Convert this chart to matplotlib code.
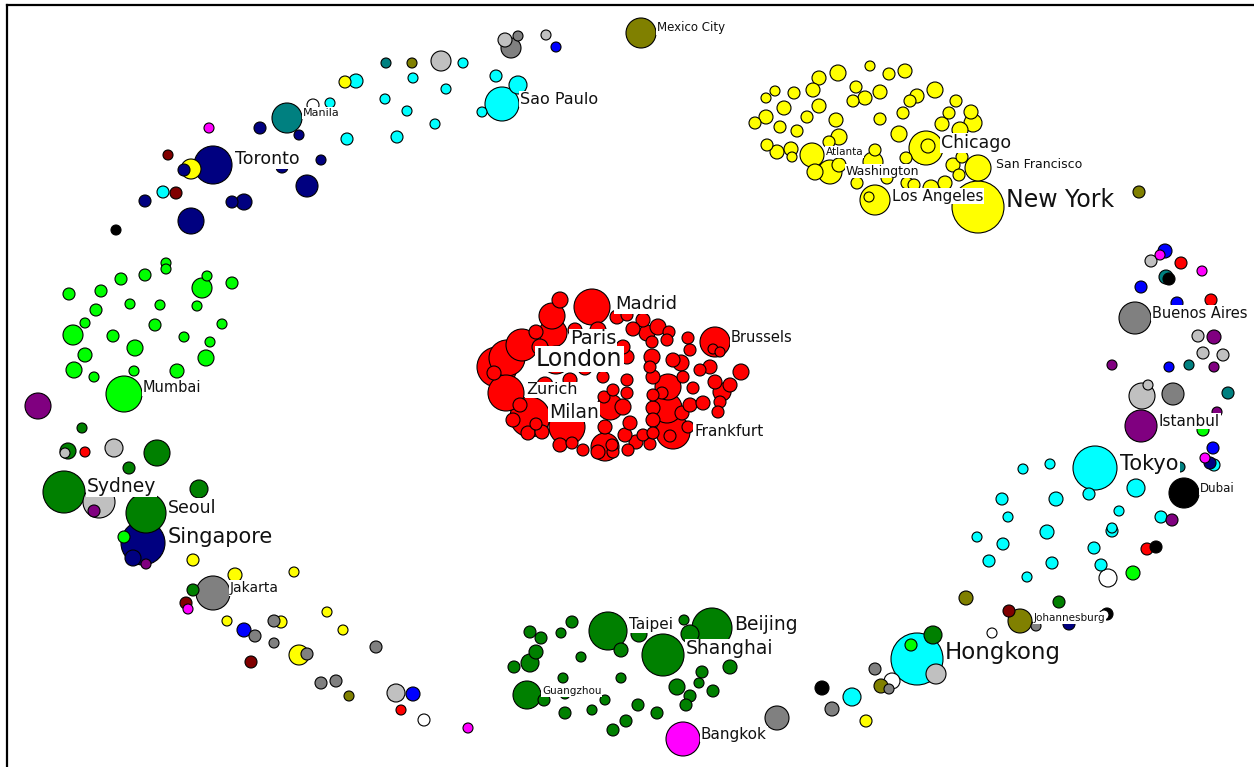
import matplotlib
matplotlib.use("Agg")
import matplotlib.pyplot as plt
from matplotlib.patches import Circle

# ---- data: bubble positions (layout units) and radii, grouped by colour ----
red = [(592,307,18),(552,316,13),(553,333,14),(536,332,7),(522,345,16),(507,358,18),(497,367,20),
       (494,373,7),(506,393,18),(530,417,20),(513,420,7),(528,433,7),(536,424,6),(567,427,18),
       (542,432,7),(583,450,6),(572,443,6),(605,447,14),(613,452,6),(628,450,6),(636,442,7),
       (650,444,6),(643,435,6),(625,435,7),(630,423,7),(605,427,7),(604,397,6),(610,407,13),
       (623,407,8),(627,393,6),(627,380,6),(613,390,6),(603,377,6),(627,357,7),(623,347,7),
       (617,317,7),(627,315,6),(643,320,7),(633,329,7),(647,333,8),(658,327,8),(669,332,6),
       (667,340,6),(652,342,6),(652,357,8),(650,367,6),(673,360,7),(681,363,8),(688,338,6),
       (690,350,6),(715,342,15),(713,349,5),(720,352,5),(700,370,6),(710,367,7),(741,372,8),
       (715,382,7),(730,385,7),(722,392,9),(668,387,13),(662,393,6),(653,377,7),(653,395,6),
       (683,377,6),(693,388,6),(667,408,15),(653,408,7),(653,420,7),(682,413,7),(690,405,7),
       (703,403,7),(720,402,6),(718,412,6),(673,432,17),(670,436,6),(688,427,6),(653,433,6),
       (556,360,14),(590,355,12),(600,340,10),(545,385,8),(570,380,7),(585,368,7),(540,347,8),
       (560,300,8),(575,330,7),(598,330,8),(612,445,6),(598,452,7),(560,445,7),(520,405,7)]
yellow = [(870,66,5),(889,74,6),(905,71,7),(838,73,8),(819,78,7),(775,91,5),(766,98,5),(794,93,6),
          (813,90,7),(856,87,6),(880,92,7),(865,98,7),(853,101,6),(935,90,8),(917,96,7),(910,101,6),
          (956,101,6),(949,113,6),(971,112,7),(784,108,7),(819,106,7),(807,117,6),(836,120,7),
          (880,119,6),(903,113,6),(755,123,6),(766,117,7),(780,127,6),(797,131,6),(942,124,7),
          (973,123,9),(960,130,8),(899,134,8),(839,137,8),(829,142,6),(767,145,6),(777,152,7),
          (791,149,7),(792,157,5),(812,155,12),(815,172,8),(830,172,12),(839,165,7),(857,183,6),
          (875,150,6),(873,162,10),(887,178,6),(906,158,6),(907,183,6),(926,148,17),(928,146,7),
          (953,165,7),(962,157,6),(959,175,6),(978,168,13),(945,183,7),(931,188,8),(914,185,6),
          (875,200,15),(869,197,5),(978,207,26),
          (193,560,6),(235,575,7),(294,572,5),(227,621,5),(281,622,6),(327,612,5),(343,630,5),
          (299,655,10),(345,82,6),(191,169,10),(866,721,6)]
lime = [(166,263,5),(166,269,5),(207,276,5),(202,288,10),(232,283,6),(69,294,6),(101,291,6),
        (121,279,6),(145,275,6),(96,310,6),(130,304,5),(160,305,5),(197,306,5),(85,323,5),
        (155,325,6),(222,324,5),(73,335,10),(113,336,6),(184,337,5),(135,348,8),(210,342,5),
        (85,355,7),(206,358,8),(74,370,8),(94,377,5),(134,371,5),(177,371,7),(124,394,18),
        (124,537,6),(1203,430,6),(911,645,6),(1133,573,7)]
cyan = [(413,78,5),(356,81,7),(385,99,5),(407,111,5),(330,103,5),(347,139,6),(397,137,6),
        (163,192,6),(463,63,5),(496,76,6),(518,85,9),(502,104,17),(482,112,5),(446,89,5),
        (435,124,5),(1214,465,6),(1095,468,22),(1136,488,9),(1089,494,6),(1119,511,5),
        (1161,517,6),(1112,528,5),(1023,469,5),(1050,464,5),(1002,499,6),(1056,499,7),
        (1008,517,5),(977,537,5),(1003,544,6),(1047,532,7),(1112,531,6),(1094,548,6),
        (989,561,6),(1052,563,6),(1101,565,6),(1027,577,5),(917,659,26),(852,697,9)]
navy = [(260,128,6),(299,135,5),(184,170,6),(213,165,19),(282,167,6),(321,160,5),(307,186,11),
        (145,201,6),(232,202,6),(244,202,8),(191,221,13),(143,543,22),(133,558,8),(1210,463,6),
        (1069,624,6)]
green = [(82,428,5),(68,451,8),(157,453,13),(129,468,6),(199,489,9),(64,492,21),(146,513,20),
         (193,590,6),(530,632,6),(541,638,6),(561,633,5),(572,622,6),(608,631,19),(639,634,8),
         (684,620,5),(712,628,20),(690,634,9),(663,655,21),(621,650,7),(536,652,7),(530,663,9),
         (514,667,6),(581,657,5),(730,667,7),(702,672,6),(677,687,8),(699,683,5),(713,691,6),
         (690,696,6),(686,705,6),(563,678,5),(621,678,5),(527,695,14),(544,700,6),(565,694,5),
         (605,700,5),(565,713,6),(592,710,5),(638,705,6),(657,713,6),(626,721,6),(613,730,6),
         (1059,602,6),(933,635,9)]
teal = [(386,63,5),(287,118,15),(1166,277,7),(1189,365,5),(1228,393,6),(1180,467,5)]
olive = [(412,63,5),(641,33,15),(1139,192,6),(349,696,5),(966,598,7),(1020,621,12),(881,686,7)]
purple = [(38,406,13),(94,511,6),(146,564,5),(1214,337,7),(1112,365,5),(1214,367,5),(1217,412,5),
          (1141,426,16),(1172,520,6)]
maroon = [(168,155,5),(176,193,6),(186,603,6),(251,662,6),(1009,611,6)]
gray = [(518,36,5),(511,48,10),(1135,318,16),(1173,394,11),(213,593,17),(274,621,6),(255,636,6),
        (274,643,5),(307,654,6),(376,647,6),(321,683,6),(336,681,6),(777,718,12),(832,709,7),
        (875,669,6),(889,689,5),(1036,626,5)]
silver = [(505,40,7),(546,35,5),(441,61,10),(1151,261,6),(1198,336,6),(1203,353,6),(1223,355,6),
          (1142,396,13),(1148,385,5),(65,453,5),(114,448,9),(99,502,16),(396,693,9),(936,674,10)]
blue = [(556,47,5),(1165,251,7),(1141,287,6),(1177,303,6),(1169,367,5),(1213,448,6),(244,630,7),
        (413,694,7)]
magenta = [(209,128,5),(1160,255,5),(1202,271,5),(1205,458,5),(188,609,5),(468,728,5),(683,739,17)]
black = [(116,230,5),(1169,279,6),(1184,493,15),(1156,547,6),(822,688,7),(1107,614,6)]
white = [(313,105,6),(1108,578,9),(1104,615,5),(992,633,5),(892,681,8),(424,720,6)]
red_extra = [(85,452,5),(1181,263,6),(1211,300,6),(1147,549,6),(401,710,5)]

groups = [(red, "#FF0000"), (red_extra, "#FF0000"), (yellow, "#FFFF00"), (lime, "#00FF00"),
          (cyan, "#00FFFF"), (navy, "#000080"), (green, "#008000"), (teal, "#008080"),
          (olive, "#808000"), (purple, "#800080"), (maroon, "#800000"), (gray, "#808080"),
          (silver, "#C0C0C0"), (blue, "#0000FF"), (magenta, "#FF00FF"), (black, "#000000"),
          (white, "#FFFFFF")]

# ---- city labels ----
label_names = ["London", "Paris", "Madrid", "Brussels", "Zurich", "Milan", "Frankfurt",
               "New York", "Chicago", "San Francisco", "Los Angeles", "Washington", "Atlanta",
               "Mexico City", "Sao Paulo", "Manila", "Toronto", "Mumbai", "Sydney", "Seoul",
               "Singapore", "Jakarta", "Taipei", "Beijing", "Shanghai", "Guangzhou", "Bangkok",
               "Hongkong", "Johannesburg", "Dubai", "Tokyo", "Istanbul", "Buenos Aires"]
label_x = [536, 570, 615, 731, 526, 549, 694, 1006, 941, 996, 892, 846, 826, 657, 520, 303,
           235, 143, 87, 168, 168, 230, 629, 734, 686, 542, 701, 945, 1034, 1200, 1120, 1159, 1152]
label_y = [359, 339, 304, 338, 390, 412, 431, 200, 143, 165, 196, 171, 152, 28, 99, 113, 159,
           388, 487, 508, 537, 588, 625, 624, 649, 691, 734, 652, 618, 488, 464, 421, 313]
label_size = [17, 14, 13, 10.5, 11.5, 13.5, 11, 17, 12.5, 9, 11, 9, 7.5, 8.5, 11.5, 8, 12.5,
              10.5, 13.5, 12.5, 15, 10, 11, 13.5, 13.5, 7.5, 11, 16.5, 7.5, 8.5, 15, 11, 10.5]

fig = plt.figure(figsize=(12.54, 7.67), dpi=100)
ax = fig.add_axes([0, 0, 1, 1])
ax.set_xlim(0, 1254)
ax.set_ylim(767, 0)
ax.set_aspect("equal")
ax.axis("off")

allc = []
for pts, col in groups:
    for x, y, r in pts:
        allc.append((r, x, y, col))
allc.sort(key=lambda t: -t[0])
for i, (r, x, y, col) in enumerate(allc):
    ax.add_patch(Circle((x, y), r, facecolor=col, edgecolor="black", linewidth=0.8, zorder=2 + i * 0.001))

for name, x, y, s in zip(label_names, label_x, label_y, label_size):
    ax.text(x, y, name, fontsize=s, ha="left", va="center", color="#111111", family="DejaVu Sans",
            zorder=5, bbox=dict(boxstyle="square,pad=0.05", facecolor="white", edgecolor="none"))

# frame (left and top edges visible)
ax.plot([7, 7], [5, 767], color="black", linewidth=1.6, zorder=6, clip_on=False)
ax.plot([7, 1254], [5, 5], color="black", linewidth=1.6, zorder=6, clip_on=False)

fig.savefig("out.png", dpi=100)
